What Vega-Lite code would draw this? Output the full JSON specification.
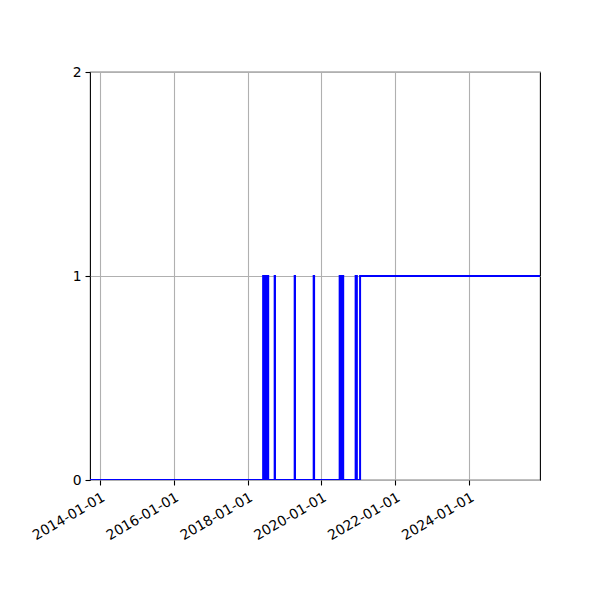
{
  "$schema": "https://vega.github.io/schema/vega-lite/v6.json",
  "width": 450,
  "height": 408,
  "autosize": "none",
  "padding": {"left": 90, "top": 72, "right": 60, "bottom": 120},
  "background": "white",
  "config": {
    "view": {"stroke": "black", "strokeWidth": 1.1},
    "axis": {
      "labelFont": "DejaVu Sans",
      "labelFontSize": 13.9,
      "labelColor": "black",
      "tickColor": "black",
      "tickSize": 5,
      "tickWidth": 1.1,
      "domain": false,
      "gridColor": "#b0b0b0",
      "gridWidth": 1.1,
      "title": null
    }
  },
  "data": {
    "values": [
      {"date": "2013-06-01", "value": 0},
      {"date": "2018-06-04", "value": 1},
      {"date": "2018-06-07", "value": 0},
      {"date": "2018-06-14", "value": 1},
      {"date": "2018-06-17", "value": 0},
      {"date": "2018-06-24", "value": 1},
      {"date": "2018-06-27", "value": 0},
      {"date": "2018-07-04", "value": 1},
      {"date": "2018-07-07", "value": 0},
      {"date": "2018-07-14", "value": 1},
      {"date": "2018-07-17", "value": 0},
      {"date": "2018-07-21", "value": 1},
      {"date": "2018-07-24", "value": 0},
      {"date": "2018-09-26", "value": 1},
      {"date": "2018-09-29", "value": 0},
      {"date": "2019-04-12", "value": 1},
      {"date": "2019-04-15", "value": 0},
      {"date": "2019-10-17", "value": 1},
      {"date": "2019-10-21", "value": 0},
      {"date": "2020-06-30", "value": 1},
      {"date": "2020-07-03", "value": 0},
      {"date": "2020-07-10", "value": 1},
      {"date": "2020-07-13", "value": 0},
      {"date": "2020-07-21", "value": 1},
      {"date": "2020-07-24", "value": 0},
      {"date": "2020-07-31", "value": 1},
      {"date": "2020-08-04", "value": 0},
      {"date": "2020-12-05", "value": 1},
      {"date": "2020-12-08", "value": 0},
      {"date": "2020-12-14", "value": 1},
      {"date": "2020-12-17", "value": 0},
      {"date": "2021-01-18", "value": 1},
      {"date": "2026-06-01", "value": 1}
    ]
  },
  "mark": {"type": "line", "interpolate": "step-after", "color": "#0000ff", "strokeWidth": 2, "clip": true},
  "encoding": {
    "x": {
      "field": "date",
      "type": "temporal",
      "scale": {
        "type": "utc",
        "domain": [
          {"year": 2013, "month": 9, "date": 25, "utc": true},
          {"year": 2025, "month": 12, "date": 3, "utc": true}
        ]
      },
      "axis": {
        "values": [
          {"year": 2014, "month": 1, "date": 1, "utc": true},
          {"year": 2016, "month": 1, "date": 1, "utc": true},
          {"year": 2018, "month": 1, "date": 1, "utc": true},
          {"year": 2020, "month": 1, "date": 1, "utc": true},
          {"year": 2022, "month": 1, "date": 1, "utc": true},
          {"year": 2024, "month": 1, "date": 1, "utc": true}
        ],
        "labelExpr": "utcFormat(datum.value, '%Y-%m-%d')",
        "labelAngle": -30,
        "labelAlign": "right",
        "labelBaseline": "top",
        "labelPadding": 5,
        "labelFlush": false,
        "labelOverlap": false
      }
    },
    "y": {
      "field": "value",
      "type": "quantitative",
      "scale": {"domain": [0, 2], "nice": false},
      "axis": {
        "values": [0, 1, 2],
        "labelExpr": "format(datum.value, 'd')",
        "labelPadding": 4,
        "labelOverlap": false
      }
    }
  }
}
